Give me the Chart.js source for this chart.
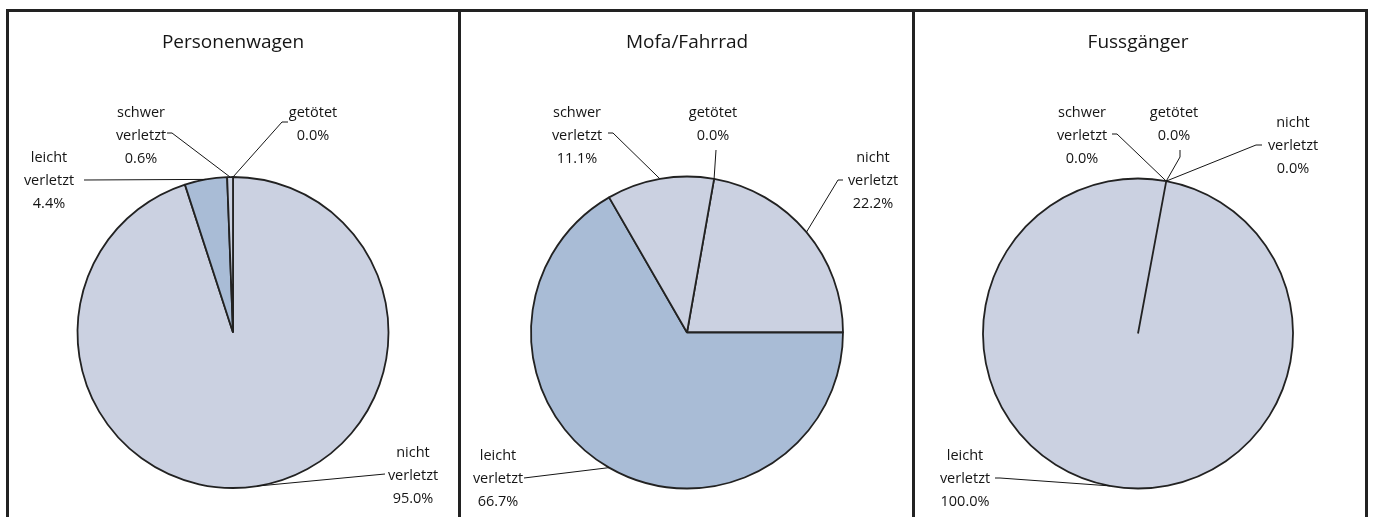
<!DOCTYPE html>
<html>
<head>
<meta charset="utf-8">
<script src="https://cdn.jsdelivr.net/npm/chart.js@4.4.1/dist/chart.umd.min.js"></script>
<style>
  body { margin: 0; background: #fff; width: 1373px; height: 517px; overflow: hidden; position: relative; }
  .panel { position: absolute; top: 9px; height: 520px; border-top: 3px solid #222; border-left: 3px solid #222; }
  #p1 { left: 6px; width: 449px; }
  #p2 { left: 458px; width: 451px; }
  #p3 { left: 912px; width: 450px; border-right: 3px solid #222; }
  canvas { position: absolute; left: 0; top: 0; }
</style>
</head>
<body>
<div class="panel" id="p1"><canvas id="c1" width="449" height="505"></canvas></div>
<div class="panel" id="p2"><canvas id="c2" width="451" height="505"></canvas></div>
<div class="panel" id="p3"><canvas id="c3" width="450" height="505"></canvas></div>
<script>
// data (percent)
const categories = ['nicht verletzt', 'leicht verletzt', 'schwer verletzt', 'getötet'];
const titles = ['Personenwagen', 'Mofa/Fahrrad', 'Fussgänger'];
const pkwValues = [95.0, 4.4, 0.6, 0.0];
const mofaValues = [22.2, 66.7, 11.1, 0.0];
const fussValues = [0.0, 100.0, 0.0, 0.0];

const LIGHT = '#cbd1e1';
const BLUE = '#a9bcd6';
const INK = '#151515';
const FONT = '"Open Sans", "Noto Sans", sans-serif';

// pie placement inside each canvas (center + radius, px) and start angle
const pies = [
  { canvas: 'c1', values: pkwValues, title: titles[0], cx: 224, cy: 320.5, r: 155.5, rotation: 0,
    colors: [LIGHT, BLUE, LIGHT, LIGHT] },
  { canvas: 'c2', values: mofaValues, title: titles[1], cx: 226, cy: 320.5, r: 156, rotation: 10,
    colors: [LIGHT, BLUE, LIGHT, LIGHT] },
  { canvas: 'c3', values: fussValues, title: titles[2], cx: 223, cy: 321.5, r: 155, rotation: 10.5,
    colors: [LIGHT, LIGHT, LIGHT, LIGHT] }
];

// label placement relative to the pie center, one per category
// t: text center x / first baseline, a: leader start, e: optional elbow
const labelLayout = [
  [
    { tx: 180, ty: 124.5, ax: 152, ay: 141.5 },
    { tx: -184, ty: -170.5, ax: -149, ay: -152.5 },
    { tx: -92, ty: -215.5, ax: -66, ay: -199.5, ex: -61, ey: -199.5 },
    { tx: 80, ty: -215.5, ax: 55, ay: -210.5, ex: 49, ey: -210.5 }
  ],
  [
    { tx: 186, ty: -170.5, ax: 156, ay: -152.5, ex: 151, ey: -152.5 },
    { tx: -189, ty: 127.5, ax: -163, ay: 145.5 },
    { tx: -110, ty: -215.5, ax: -79, ay: -199.5, ex: -74, ey: -199.5 },
    { tx: 26, ty: -215.5, ax: 29, ay: -182.5 }
  ],
  [
    { tx: 155, ty: -206.5, ax: 124, ay: -188.5, ex: 118, ey: -188.5 },
    { tx: -173, ty: 126.5, ax: -143, ay: 144.5, ex: -138, ey: 144.5 },
    { tx: -56, ty: -216.5, ax: -26, ay: -199.5, ex: -21, ey: -199.5 },
    { tx: 36, ty: -216.5, ax: 42, ay: -183.5, ex: 42, ey: -176.5 }
  ]
];

function labelLines(cat, v) {
  const parts = cat.split(' ');
  return parts.concat([v.toFixed(1) + '%']);
}

const piePlugin = {
  id: 'pieLabels',
  afterDraw(chart) {
    const cfg = chart.options.plugins.pieLabels;
    const ctx = chart.ctx;
    const meta = chart.getDatasetMeta(0);
    const cx = meta.data[0].x, cy = meta.data[0].y;
    ctx.save();
    ctx.fillStyle = INK;
    ctx.textAlign = 'center';
    ctx.textBaseline = 'alphabetic';
    ctx.font = '19px ' + FONT;
    ctx.fillText(cfg.title, cx, 36);

    ctx.font = '14.5px ' + FONT;
    ctx.strokeStyle = INK;
    ctx.lineWidth = 1;
    const vals = chart.data.datasets[0].data;
    cfg.layout.forEach((lab, i) => {
      const lines = labelLines(chart.data.labels[i], vals[i]);
      lines.forEach((s, k) => ctx.fillText(s, cx + lab.tx, cy + lab.ty + k * 23));
      const arc = meta.data[i];
      const a = (arc.startAngle + arc.endAngle) / 2;
      const px = arc.x + Math.cos(a) * arc.outerRadius;
      const py = arc.y + Math.sin(a) * arc.outerRadius;
      ctx.beginPath();
      ctx.moveTo(cx + lab.ax, cy + lab.ay);
      if (lab.ex !== undefined) ctx.lineTo(cx + lab.ex, cy + lab.ey);
      ctx.lineTo(px, py);
      ctx.stroke();
    });
    ctx.restore();
  }
};

pies.forEach((p, idx) => {
  const el = document.getElementById(p.canvas);
  const w = el.width, h = el.height;
  const pad = 2;
  new Chart(el, {
    type: 'pie',
    data: {
      labels: categories,
      datasets: [{
        data: p.values,
        backgroundColor: p.colors,
        borderColor: '#222',
        borderWidth: 1.8
      }]
    },
    options: {
      responsive: false,
      animation: false,
      rotation: p.rotation,
      radius: p.r,
      layout: {
        padding: {
          left: p.cx - p.r - pad,
          right: w - (p.cx + p.r) - pad,
          top: p.cy - p.r - pad,
          bottom: h - (p.cy + p.r) - pad
        }
      },
      plugins: {
        legend: { display: false },
        tooltip: { enabled: false },
        pieLabels: { title: p.title, layout: labelLayout[idx] }
      }
    },
    plugins: [piePlugin]
  });
});
</script>
</body>
</html>
